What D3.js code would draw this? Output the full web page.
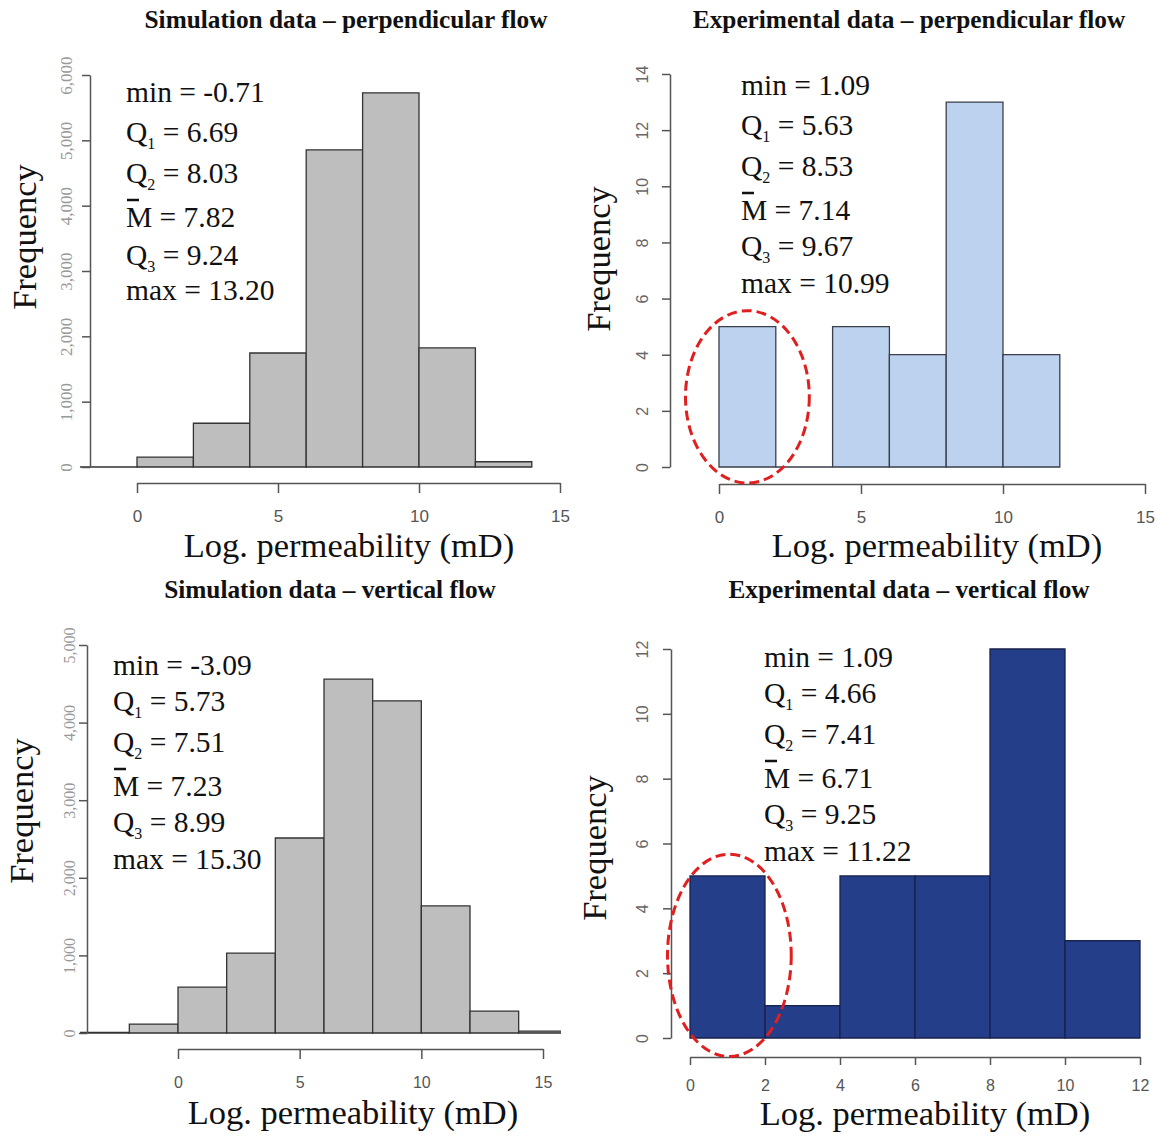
<!DOCTYPE html>
<html>
<head>
<meta charset="utf-8">
<script src="https://cdn.jsdelivr.net/npm/d3@7"></script>
<style>
    body { margin: 0; background: #fff; }
    svg text { white-space: pre; }
</style>
</head>
<body>
<div id="chart"></div>
<script>
// bin edges (log permeability, mD) and counts
var simPerpEdges = [-2, 0, 2, 4, 6, 8, 10, 12, 14];
var simPerpCounts = [3, 152, 670, 1745, 4855, 5727, 1822, 80];
var expPerpEdges = [0, 2, 4, 6, 8, 10, 12];
var expPerpCounts = [5, 0, 5, 4, 13, 4];
var simVertEdges = [-4, -2, 0, 2, 4, 6, 8, 10, 12, 14, 16];
var simVertCounts = [8, 115, 590, 1030, 2513, 4560, 4280, 1637, 283, 25];
var expVertEdges = [0, 2, 4, 6, 8, 10, 12];
var expVertCounts = [5, 1, 5, 5, 12, 3];

// tick values
var xTicksWide = [0, 5, 10, 15];
var xTicksExpVert = [0, 2, 4, 6, 8, 10, 12];
var yTicksSimPerp = [0, 1000, 2000, 3000, 4000, 5000, 6000];
var yTicksExpPerp = [0, 2, 4, 6, 8, 10, 12, 14];
var yTicksSimVert = [0, 1000, 2000, 3000, 4000, 5000];
var yTicksExpVert = [0, 2, 4, 6, 8, 10, 12];

// summary statistics printed in each panel
var statNames = ["min", "Q1", "Q2", "M", "Q3", "max"];
var simPerpStats = ["-0.71", "6.69", "8.03", "7.82", "9.24", "13.20"];
var expPerpStats = ["1.09", "5.63", "8.53", "7.14", "9.67", "10.99"];
var simVertStats = ["-3.09", "5.73", "7.51", "7.23", "8.99", "15.30"];
var expVertStats = ["1.09", "4.66", "7.41", "6.71", "9.25", "11.22"];

var titles = [
    "Simulation data \u2013 perpendicular flow",
    "Experimental data \u2013 perpendicular flow",
    "Simulation data \u2013 vertical flow",
    "Experimental data \u2013 vertical flow"
];
var xTitle = "Log. permeability (mD)";
var yTitle = "Frequency";

// dashed ellipse round the first bin (centre and radii in data units)
var expPerpCircle = { cx: 1, cy: 2.5, rx: 2.18, ry: 3.07 };
var expVertCircle = { cx: 1.05, cy: 2.55, rx: 1.65, ry: 3.12 };

var SERIF = "'Liberation Serif', 'Times New Roman', serif";
var SANS = "'Liberation Sans', Arial, sans-serif";

var svg = d3.select("#chart").append("svg")
    .attr("width", 1158)
    .attr("height", 1136);

var panels = [
    {
        title: titles[0], titleX: 346, titleY: 28,
        edges: simPerpEdges, counts: simPerpCounts, stats: simPerpStats,
        xDomain: [0, 15], xRange: [137, 560], xTicks: xTicksWide, xAxisY: 483, xTickLen: 10, xLabOff: 39, xFont: 17,
        yDomain: [0, 6000], yRange: [467, 75], yTicks: yTicksSimPerp, yAxisX: 90, yLabOff: 18, yFmt: d3.format(","), yFont: 17, yFam: SERIF, yCol: "#999",
        fill: "#bebebe", stroke: "#333",
        statX: 126, statY: [102, 142, 183, 227, 265, 300],
        freqX: 36, freqY: 237, xTitleX: 349, xTitleY: 557
    },
    {
        title: titles[1], titleX: 909, titleY: 28,
        edges: expPerpEdges, counts: expPerpCounts, stats: expPerpStats,
        xDomain: [0, 15], xRange: [719, 1145], xTicks: xTicksWide, xAxisY: 484, xTickLen: 10, xLabOff: 39, xFont: 17,
        yDomain: [0, 14], yRange: [467, 74], yTicks: yTicksExpPerp, yAxisX: 670, yLabOff: 22, yFmt: d3.format("d"), yFont: 16, yFam: SANS, yCol: "#666",
        fill: "#bdd2ee", stroke: "#3a3f4a",
        statX: 741, statY: [95, 135, 176, 220, 256, 293],
        freqX: 610, freqY: 259, xTitleX: 937, xTitleY: 557,
        circle: expPerpCircle
    },
    {
        title: titles[2], titleX: 330, titleY: 598,
        edges: simVertEdges, counts: simVertCounts, stats: simVertStats,
        xDomain: [0, 15], xRange: [178, 543], xTicks: xTicksWide, xAxisY: 1049, xTickLen: 10, xLabOff: 39, xFont: 16,
        yDomain: [0, 5000], yRange: [1033, 645], yTicks: yTicksSimVert, yAxisX: 87, yLabOff: 12, yFmt: d3.format(","), yFont: 16, yFam: SERIF, yCol: "#999",
        fill: "#bebebe", stroke: "#333",
        statX: 113, statY: [675, 711, 752, 796, 832, 869],
        freqX: 33, freqY: 811, xTitleX: 353, xTitleY: 1124,
        clipRight: 561
    },
    {
        title: titles[3], titleX: 909, titleY: 598,
        edges: expVertEdges, counts: expVertCounts, stats: expVertStats,
        xDomain: [0, 12], xRange: [690, 1140], xTicks: xTicksExpVert, xAxisY: 1057, xTickLen: 8, xLabOff: 34, xFont: 16,
        yDomain: [0, 12], yRange: [1038, 649], yTicks: yTicksExpVert, yAxisX: 671, yLabOff: 23, yFmt: d3.format("d"), yFont: 16, yFam: SANS, yCol: "#666",
        fill: "#243e8a", stroke: "#17224d",
        statX: 764, statY: [667, 703, 744, 788, 824, 861],
        freqX: 606, freqY: 848, xTitleX: 925, xTitleY: 1125,
        circle: expVertCircle
    }
];

panels.forEach(drawPanel);

function drawPanel(p, k) {
    var x = d3.scaleLinear().domain(p.xDomain).range(p.xRange);
    var y = d3.scaleLinear().domain(p.yDomain).range(p.yRange);
    var g = svg.append("g");

    var bars = g.append("g");
    if (p.clipRight) {
        // the source figure is cut at the panel edge
        svg.append("clipPath").attr("id", "clip" + k)
            .append("rect")
            .attr("x", 0).attr("y", 0)
            .attr("width", p.clipRight).attr("height", 1136);
        bars.attr("clip-path", "url(#clip" + k + ")");
    }

    // histogram bars, drawn as paths so empty bins still show as a line
    bars.selectAll("path")
        .data(p.counts)
        .enter().append("path")
        .attr("d", function (d, i) {
            var x0 = x(p.edges[i]), x1 = x(p.edges[i + 1]);
            var y0 = y(0), y1 = y(d);
            return "M" + x0 + "," + y0 + "V" + y1 + "H" + x1 + "V" + y0 + "Z";
        })
        .attr("fill", p.fill)
        .attr("stroke", p.stroke)
        .attr("stroke-width", 1.3);

    // x axis (R style, detached below the bars)
    var xa = g.append("g")
        .attr("transform", "translate(0," + p.xAxisY + ")")
        .call(d3.axisBottom(x).tickValues(p.xTicks).tickSize(p.xTickLen).tickSizeOuter(0));
    xa.selectAll("path, line").attr("stroke", "#555").attr("stroke-width", 1.5);
    xa.selectAll("text")
        .attr("y", p.xLabOff).attr("dy", null)
        .attr("fill", "#555")
        .style("font-family", SANS)
        .style("font-size", p.xFont + "px");

    // y axis with rotated labels
    var ya = g.append("g")
        .attr("transform", "translate(" + p.yAxisX + ",0)")
        .call(d3.axisLeft(y).tickValues(p.yTicks).tickSize(8).tickSizeOuter(0).tickFormat(p.yFmt));
    ya.selectAll("path, line").attr("stroke", "#555").attr("stroke-width", 1.5);
    ya.selectAll("text")
        .attr("x", 0).attr("dy", null)
        .attr("y", -p.yLabOff)
        .attr("transform", "rotate(-90)")
        .attr("text-anchor", "middle")
        .attr("fill", p.yCol)
        .style("font-family", p.yFam)
        .style("font-size", p.yFont + "px");

    // panel title
    g.append("text")
        .attr("x", p.titleX).attr("y", p.titleY)
        .attr("text-anchor", "middle")
        .style("font-family", SERIF)
        .style("font-weight", "bold")
        .style("font-size", "25.3px")
        .attr("fill", "#111")
        .text(p.title);

    // axis titles
    g.append("text")
        .attr("x", p.xTitleX).attr("y", p.xTitleY)
        .attr("text-anchor", "middle")
        .style("font-family", SERIF)
        .style("font-size", "34.5px")
        .attr("fill", "#111")
        .text(xTitle);
    g.append("text")
        .attr("transform", "translate(" + p.freqX + "," + p.freqY + ") rotate(-90)")
        .attr("text-anchor", "middle")
        .style("font-family", SERIF)
        .style("font-size", "34.5px")
        .attr("fill", "#111")
        .text(yTitle);

    // summary statistics
    p.stats.forEach(function (v, i) {
        var name = statNames[i];
        var t = g.append("text")
            .attr("x", p.statX).attr("y", p.statY[i])
            .style("font-family", SERIF)
            .style("font-size", "29.5px")
            .attr("fill", "#111");
        if (name.charAt(0) === "Q") {
            t.append("tspan").text("Q");
            t.append("tspan").attr("dy", 7).style("font-size", "16px").text(name.charAt(1));
            t.append("tspan").attr("dy", -7).text(" = " + v);
        } else {
            t.text(name + " = " + v);
        }
        if (name === "M") {
            // overbar on the mean
            g.append("line")
                .attr("x1", p.statX + 1).attr("x2", p.statX + 13)
                .attr("y1", p.statY[i] - 27).attr("y2", p.statY[i] - 27)
                .attr("stroke", "#111")
                .attr("stroke-width", 2.5);
        }
    });

    // red dashed ellipse highlighting the low-permeability bin
    if (p.circle) {
        var c = p.circle;
        g.append("ellipse")
            .attr("cx", x(c.cx))
            .attr("cy", y(c.cy))
            .attr("rx", x(c.cx + c.rx) - x(c.cx))
            .attr("ry", y(0) - y(c.ry))
            .attr("fill", "none")
            .attr("stroke", "#e01f1f")
            .attr("stroke-width", 3)
            .attr("stroke-dasharray", "10,5");
    }
}
</script>
</body>
</html>
